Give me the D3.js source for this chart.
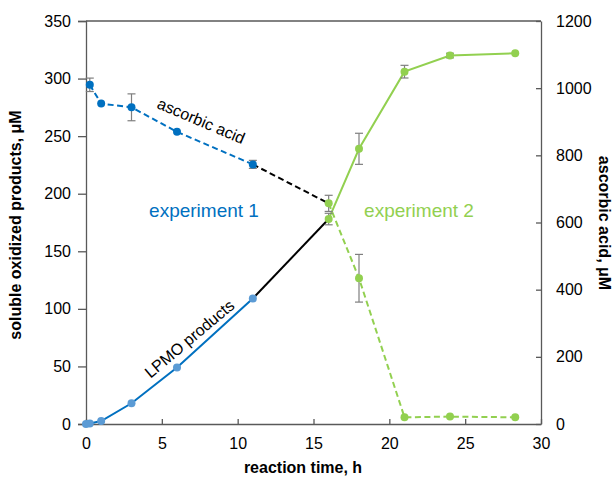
<!DOCTYPE html>
<html>
<head>
<meta charset="utf-8">
<script src="https://d3js.org/d3.v7.min.js"></script>
<style>
  body { margin: 0; background: #fff; }
  svg text { font-family: "Liberation Sans", Arial, sans-serif; }
</style>
</head>
<body>
<div id="chart"></div>
<script>
// reaction time (h) and values
var prodTime1 = [0, 0.25, 1, 3, 6, 11];
var prodVal1  = [0, 0.5, 2.6, 18, 49, 109];

var prodTime2 = [16, 18, 21, 24, 28.3];
var prodVal2  = [178, 239, 306, 320, 322];
var prodErr2  = [5, 13.5, 5.5, 2, 0];

var ascTime1 = [0.25, 1, 3, 6, 11];
var ascVal1  = [1010, 954, 943, 870, 773];
var ascErr1  = [20, 0, 40, 0, 12];

var ascTime2 = [16, 18, 21, 24, 28.3];
var ascVal2  = [657, 434, 20, 22, 20];
var ascErr2  = [24, 71, 0, 0, 0];

var xTicks = [0, 5, 10, 15, 20, 25, 30];
var yLeftTicks = [0, 50, 100, 150, 200, 250, 300, 350];
var yRightTicks = [0, 200, 400, 600, 800, 1000, 1200];

var W = 615, H = 477;
var margin = {top: 21, right: 74, bottom: 53, left: 86};
var width = W - margin.left - margin.right,
    height = H - margin.top - margin.bottom;

var blueDark = "#0070C0", blueLight = "#5B9BD5", green = "#92D050", axisCol = "#595959";

var svg = d3.select("#chart").append("svg")
    .attr("width", W).attr("height", H);
var g = svg.append("g")
    .attr("transform", "translate(" + margin.left + "," + margin.top + ")");

var x = d3.scaleLinear().domain([0, 30]).range([0, width]);
var yL = d3.scaleLinear().domain([0, 350]).range([height, 0]);
var yR = d3.scaleLinear().domain([0, 1200]).range([height, 0]);

function pts(t, v) { return t.map(function(d, i) { return {t: d, v: v[i]}; }); }

// frame top
g.append("line").attr("x1", 0).attr("x2", width).attr("y1", 0).attr("y2", 0)
    .attr("stroke", axisCol).attr("stroke-width", 1.3);

// axes
var axL = g.append("g").call(d3.axisLeft(yL).tickValues(yLeftTicks).tickFormat(d3.format("d"))
    .tickSize(8).tickPadding(7));
var axB = g.append("g").attr("transform", "translate(0," + height + ")")
    .call(d3.axisBottom(x).tickValues(xTicks).tickFormat(d3.format("d"))
        .tickSizeInner(-5).tickSizeOuter(0).tickPadding(14));
var axR = g.append("g").attr("transform", "translate(" + width + ",0)")
    .call(d3.axisRight(yR).tickValues(yRightTicks).tickFormat(d3.format("d"))
        .tickSizeInner(-5).tickSizeOuter(0).tickPadding(15));
[axL, axB, axR].forEach(function(a) {
    a.selectAll("path, line").attr("stroke", axisCol).attr("stroke-width", 1.3);
    a.selectAll("text").attr("font-size", 16).attr("fill", "#000")
        .attr("font-family", "Liberation Sans, Arial, sans-serif");
});

// lines
var lineL = d3.line().x(function(d) { return x(d.t); }).y(function(d) { return yL(d.v); });
var lineR = d3.line().x(function(d) { return x(d.t); }).y(function(d) { return yR(d.v); });

function drawLine(gen, data, color, dashed) {
    g.append("path").datum(data).attr("d", gen)
        .attr("fill", "none").attr("stroke", color).attr("stroke-width", 2)
        .attr("stroke-dasharray", dashed ? "6,3.5" : null);
}

var p1 = pts(prodTime1, prodVal1), p2 = pts(prodTime2, prodVal2);
var a1 = pts(ascTime1, ascVal1), a2 = pts(ascTime2, ascVal2);

drawLine(lineL, p1, blueDark, false);
drawLine(lineL, [p1[p1.length - 1], p2[0]], "#000", false);
drawLine(lineL, p2, green, false);
drawLine(lineR, a1, blueDark, true);
drawLine(lineR, [a1[a1.length - 1], a2[0]], "#000", true);
drawLine(lineR, a2, green, true);

// error bars
function errBars(t, v, e, y) {
    t.forEach(function(d, i) {
        if (!e[i]) return;
        var cx = x(d), y1 = y(v[i] - e[i]), y2 = y(v[i] + e[i]);
        var eg = g.append("g").attr("stroke", "#7F7F7F").attr("stroke-width", 1.2);
        eg.append("line").attr("x1", cx).attr("x2", cx).attr("y1", y1).attr("y2", y2);
        eg.append("line").attr("x1", cx - 4).attr("x2", cx + 4).attr("y1", y1).attr("y2", y1);
        eg.append("line").attr("x1", cx - 4).attr("x2", cx + 4).attr("y1", y2).attr("y2", y2);
    });
}
errBars(prodTime2, prodVal2, prodErr2, yL);
errBars(ascTime1, ascVal1, ascErr1, yR);
errBars(ascTime2, ascVal2, ascErr2, yR);

// markers
function dots(data, y, color) {
    g.selectAll(null).data(data).enter().append("circle")
        .attr("cx", function(d) { return x(d.t); })
        .attr("cy", function(d) { return y(d.v); })
        .attr("r", 4).attr("fill", color);
}
dots(p1, yL, blueLight);
dots(a1, yR, blueDark);
dots(p2, yL, green);
dots(a2, yR, green);

// annotations
svg.append("text").text("experiment 1").attr("x", 204).attr("y", 217)
    .attr("text-anchor", "middle").attr("font-size", 19).attr("fill", blueDark);
svg.append("text").text("experiment 2").attr("x", 419).attr("y", 217)
    .attr("text-anchor", "middle").attr("font-size", 19).attr("fill", green);
svg.append("text").text("ascorbic acid")
    .attr("transform", "translate(199,126) rotate(23)")
    .attr("text-anchor", "middle").attr("font-size", 16).attr("fill", "#000");
svg.append("text").text("LPMO products")
    .attr("transform", "translate(193,343) rotate(-40)")
    .attr("text-anchor", "middle").attr("font-size", 16).attr("fill", "#000");

// axis titles
svg.append("text").text("reaction time, h").attr("x", 303).attr("y", 473)
    .attr("text-anchor", "middle").attr("font-size", 16).attr("font-weight", "bold");
svg.append("text").text("soluble oxidized products, μM")
    .attr("transform", "translate(21,225) rotate(-90)")
    .attr("text-anchor", "middle").attr("font-size", 16).attr("font-weight", "bold");
svg.append("text").text("ascorbic acid, μM")
    .attr("transform", "translate(599,223) rotate(90)")
    .attr("text-anchor", "middle").attr("font-size", 16).attr("font-weight", "bold");
</script>
</body>
</html>
